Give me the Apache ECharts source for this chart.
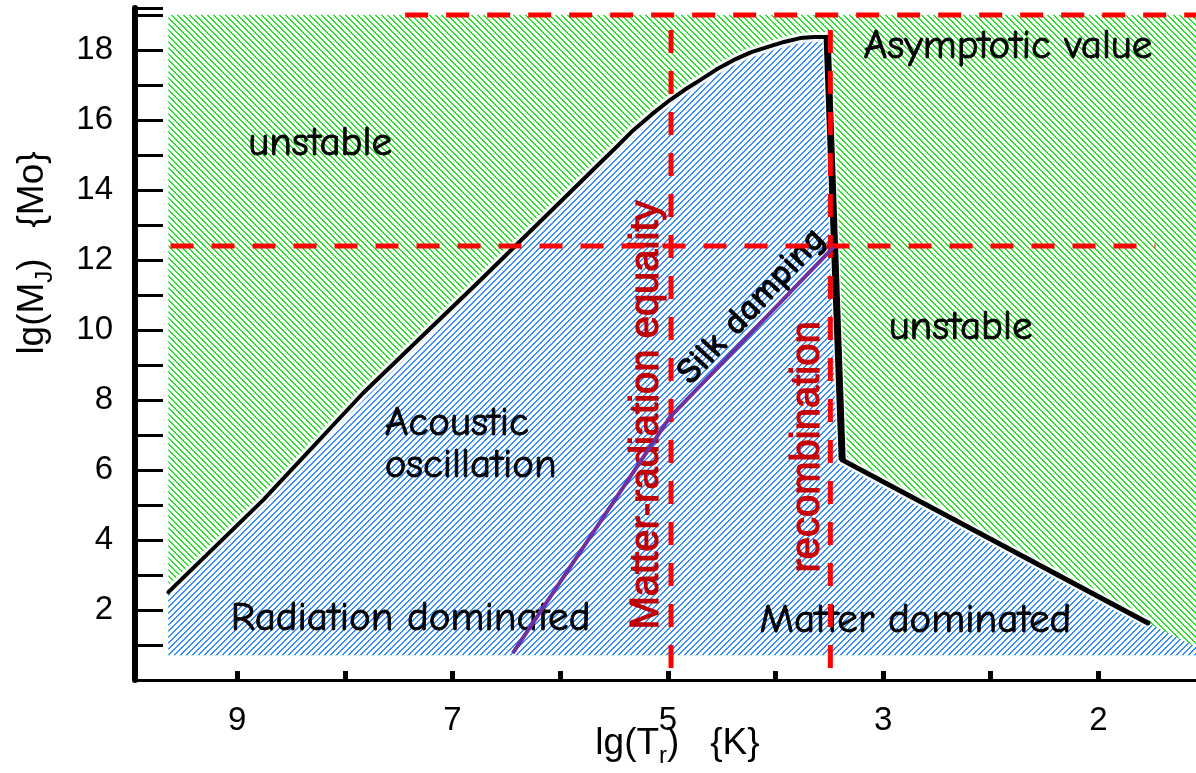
<!DOCTYPE html>
<html>
<head>
<meta charset="utf-8">
<script src="https://cdn.jsdelivr.net/npm/echarts@6/dist/echarts.min.js"></script>
<style>
  html, body { margin: 0; padding: 0; background: #fff; overflow: hidden; }
  #chart { width: 1196px; height: 773px; }
</style>
</head>
<body>
<div id="chart"></div>
<script>
// Jeans mass lg(M_J) against radiation temperature lg(T_r)

// x tick labels (the last tick sits at lg T = 1)
const xTickValues = [9, 7, 5, 3, 1];
const xTickLabels = ['9', '7', '5', '3', '2'];

// shaded panel extent
const panelX = [9.64, 0.0];
const panelY = [0.71, 19.0];

// Jeans-mass boundary in the radiation era
const boundaryX = [9.64, 8.76, 7.83, 6.74, 5.63, 5.47, 5.32, 5.15, 4.98, 4.84, 4.70, 4.55, 4.39, 4.23, 4.07, 3.92, 3.77, 3.64, 3.52];
const boundaryY = [2.51, 5.14, 8.20, 11.43, 14.77, 15.25, 15.71, 16.16, 16.57, 16.87, 17.14, 17.44, 17.71, 17.93, 18.09, 18.23, 18.34, 18.37, 18.37];

// drop at recombination
const dropX = [3.52, 3.38];
const dropY = [18.37, 6.29];

// matter-era branch
const tailX = [3.38, 0.54];
const tailY = [6.29, 1.63];
const tailEdgeX = [0.54, 0.0];
const tailEdgeY = [1.63, 0.80];

// Silk damping mass
const silkX = [6.44, 4.98, 3.46];
const silkY = [0.77, 7.51, 12.37];

// reference epochs and masses
const equalityT = 4.97;
const recombT = 3.49;
const asymptoteM = 19.0;
const silkRecM = 12.4;

// region and line annotations
const noteTexts = ['unstable', 'unstable', 'Asymptotic value', 'Acoustic\noscillation',
  'Radiation dominated', 'Matter dominated', 'Matter-radiation equality', 'recombination', 'Silk damping'];
const noteX = [8.23, 2.28, 1.84, 7.63, 7.39, 2.70, 5.19, 3.70, 4.22];
const noteY = [15.34, 10.06, 18.09, 6.74, 1.77, 1.71, 7.57, 6.66, 10.69];

const handFont = "'Comic Sans MS', 'Comic Neue', 'DejaVu Sans', sans-serif";
const axisFont = "'Liberation Sans', Arial, sans-serif";
const noteStyles = [
  { font: `41px ${handFont}`, color: '#000', rot: 0, bold: 0.9 },
  { font: `41px ${handFont}`, color: '#000', rot: 0, bold: 0.9 },
  { font: `41px ${handFont}`, color: '#000', rot: 0, bold: 0.9 },
  { font: `41px ${handFont}`, color: '#000', rot: 0, align: 'left', lh: 42, bold: 0.9 },
  { font: `41px ${handFont}`, color: '#000', rot: 0, bold: 0.9 },
  { font: `41px ${handFont}`, color: '#000', rot: 0, bold: 0.9 },
  { font: `40px ${axisFont}`, color: '#c00000', rot: 90, bold: 1.2 },
  { font: `40px ${axisFont}`, color: '#c80000', rot: 90, bold: 1.2 },
  { font: `bold 36px ${handFont}`, color: '#000', rot: 47, bold: 0.6 }
];

// diagonal hatch tile; dir > 0 gives '/', dir < 0 gives '\'
function hatch(rgb, period, width, dir) {
  const c = document.createElement('canvas');
  c.width = c.height = period;
  const ctx = c.getContext('2d');
  const img = ctx.createImageData(period, period);
  for (let j = 0; j < period; j++) {
    for (let i = 0; i < period; i++) {
      const k = dir > 0 ? (i + j) % period : ((i - j) % period + period) % period;
      const on = k < width;
      const o = (j * period + i) * 4;
      img.data[o] = on ? rgb[0] : 255;
      img.data[o + 1] = on ? rgb[1] : 255;
      img.data[o + 2] = on ? rgb[2] : 255;
      img.data[o + 3] = 255;
    }
  }
  ctx.putImageData(img, 0, 0);
  return { image: c, repeat: 'repeat' };
}

const greenHatch = hatch([45, 226, 45], 6, 2, -1);
const blueHatch = hatch([52, 142, 255], 6, 2, 1);

const pairs = (xs, ys) => xs.map((x, i) => [x, ys[i]]);

function polygonSeries(xs, ys, fill, z) {
  return {
    type: 'custom', z, silent: true,
    data: [[xs[0], ys[0]]],
    renderItem: (params, api) => ({
      type: 'polygon',
      shape: { points: xs.map((x, i) => api.coord([x, ys[i]])) },
      style: { fill: fill, stroke: null }
    })
  };
}

function lineSeries(data, style, z) {
  return {
    type: 'line', z, silent: true, showSymbol: false, symbol: 'none',
    data, lineStyle: style, animation: false
  };
}

// polygons
const greenPolyX = [panelX[0], panelX[0], panelX[1], panelX[1]];
const greenPolyY = [panelY[0], panelY[1], panelY[1], panelY[0]];
const bluePolyX = [panelX[0]].concat(boundaryX, dropX.slice(1), tailX.slice(1), tailEdgeX.slice(1), [panelX[1]]);
const bluePolyY = [panelY[0]].concat(boundaryY, dropY.slice(1), tailY.slice(1), tailEdgeY.slice(1), [panelY[0]]);

const redDash = { color: '#ff0000', width: 5, type: [23, 18] };

const chart = echarts.init(document.getElementById('chart'), null, { renderer: 'canvas' });
chart.setOption({
  animation: false,
  backgroundColor: '#fff',
  grid: { left: 135, right: -10, top: 8, bottom: 93, containLabel: false, outerBoundsMode: 'none' },
  xAxis: {
    type: 'value', inverse: true, min: 0, max: 9.95, interval: 1,
    splitLine: { show: false },
    axisLine: { show: true, onZero: false, lineStyle: { color: '#000', width: 3 } },
    axisTick: { show: true, inside: true, length: 9, lineStyle: { color: '#000', width: 5 } },
    axisLabel: {
      margin: 24, color: '#000', fontSize: 33, fontFamily: axisFont,
      formatter: v => { const i = xTickValues.indexOf(v); return i >= 0 ? xTickLabels[i] : ''; }
    },
    name: '{a|lg(T}{s|r}{a|)   {K}}',
    nameLocation: 'middle', nameGap: 40, nameMoveOverlap: false,
    nameTextStyle: {
      color: '#000', fontSize: 37, fontFamily: axisFont, padding: [0, 0, 0, 14],
      rich: {
        a: { fontSize: 37, fontFamily: axisFont, color: '#000', lineHeight: 48 },
        s: { fontSize: 24, fontFamily: axisFont, color: '#000', lineHeight: 24, verticalAlign: 'bottom' }
      }
    }
  },
  yAxis: {
    type: 'value', min: 0, max: 19.2, interval: 1,
    splitLine: { show: false },
    axisLine: { show: true, onZero: false, lineStyle: { color: '#000', width: 6 } },
    axisTick: { show: true, inside: true, length: 28, lineStyle: { color: '#000', width: 3 } },
    axisLabel: {
      margin: 22, color: '#000', fontSize: 33, fontFamily: axisFont,
      formatter: v => (v > 0 && v < 19 && v % 2 === 0) ? String(v) : ''
    },
    name: '{a|lg(M}{s|J}{a|)   {Mo}}',
    nameLocation: 'middle', nameRotate: 90, nameGap: 78, nameMoveOverlap: false,
    nameTextStyle: {
      color: '#000', fontSize: 37, fontFamily: axisFont, padding: [0, 0, 0, 182],
      rich: {
        a: { fontSize: 37, fontFamily: axisFont, color: '#000', lineHeight: 48 },
        s: { fontSize: 24, fontFamily: axisFont, color: '#000', lineHeight: 24, verticalAlign: 'bottom' }
      }
    }
  },
  series: [
    polygonSeries(greenPolyX, greenPolyY, greenHatch, 1),
    polygonSeries(bluePolyX, bluePolyY, blueHatch, 2),
    // white halo under the boundary
    lineSeries(pairs(boundaryX, boundaryY).concat(pairs(dropX, dropY).slice(1), pairs(tailX, tailY).slice(1)),
      { color: 'rgba(255,255,255,0.85)', width: 10, join: 'round' }, 3),
    lineSeries(pairs(boundaryX, boundaryY), { color: '#000', width: 4, join: 'round', cap: 'round' }, 4),
    lineSeries(pairs(dropX, dropY), { color: '#000', width: 7, join: 'round' }, 4),
    lineSeries(pairs(tailX, tailY), { color: '#000', width: 5, cap: 'round' }, 4),
    // annotations
    {
      type: 'custom', z: 5, silent: true,
      data: noteTexts.map((t, i) => [noteX[i], noteY[i]]),
      renderItem: (params, api) => {
        const i = params.dataIndex;
        const p = api.coord([noteX[i], noteY[i]]);
        const st = noteStyles[i];
        return {
          type: 'text', x: p[0], y: p[1], rotation: st.rot * Math.PI / 180,
          style: {
            text: noteTexts[i], font: st.font, fill: st.color,
            stroke: st.color, lineWidth: st.bold,
            align: st.align || 'center', verticalAlign: 'middle', lineHeight: st.lh || 44
          }
        };
      }
    },
    // epochs and characteristic masses
    lineSeries([[equalityT, 0.34], [equalityT, 18.8]], redDash, 6),
    lineSeries([[recombT, 0.34], [recombT, 18.8]], redDash, 6),
    lineSeries([[7.44, asymptoteM], [0, asymptoteM]], redDash, 6),
    lineSeries([[9.62, silkRecM], [0.47, silkRecM]], redDash, 6),
    lineSeries(pairs(silkX, silkY), { color: '#7030a0', width: 4 }, 7)
  ]
});
</script>
</body>
</html>
